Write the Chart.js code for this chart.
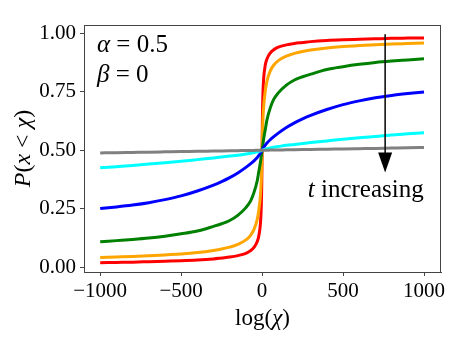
<!DOCTYPE html>
<html>
<head>
<meta charset="utf-8">
<script src="https://cdn.jsdelivr.net/npm/chart.js@4.4.1/dist/chart.umd.min.js"></script>
<style>
  html, body { margin: 0; padding: 0; background: #fff; }
  canvas { display: block; }
</style>
</head>
<body>
<canvas id="cdfChart" width="469" height="351"></canvas>
<script>
// log(chi) sample points
const xs = [-1000, -900, -800, -700, -600, -500, -400, -300, -250, -200, -150, -100, -70, -50, -30, -20, -10, -5, -2, 0,
            2, 5, 10, 20, 30, 50, 70, 100, 150, 200, 250, 300, 400, 500, 600, 700, 800, 900, 1000];

const redVals    = [0.020, 0.021, 0.022, 0.024, 0.026, 0.028, 0.031, 0.036, 0.040, 0.044, 0.050, 0.060, 0.072, 0.085, 0.110, 0.135, 0.190, 0.260, 0.360, 0.5,
                    0.64, 0.74, 0.81, 0.865, 0.89, 0.915, 0.928, 0.94, 0.95, 0.956, 0.96, 0.964, 0.969, 0.972, 0.974, 0.976, 0.978, 0.979, 0.98];
const orangeVals = [0.042, 0.044, 0.046, 0.049, 0.053, 0.057, 0.063, 0.072, 0.078, 0.086, 0.098, 0.117, 0.138, 0.162, 0.205, 0.245, 0.310, 0.370, 0.430, 0.5,
                    0.57, 0.63, 0.69, 0.755, 0.795, 0.838, 0.862, 0.883, 0.902, 0.914, 0.922, 0.928, 0.937, 0.943, 0.947, 0.951, 0.954, 0.956, 0.958];
const greenVals  = [0.109, 0.114, 0.119, 0.125, 0.133, 0.143, 0.155, 0.175, 0.186, 0.200, 0.222, 0.255, 0.285, 0.320, 0.370, 0.410, 0.450, 0.475, 0.490, 0.5,
                    0.51, 0.525, 0.55, 0.59, 0.63, 0.68, 0.715, 0.745, 0.778, 0.80, 0.814, 0.825, 0.845, 0.857, 0.867, 0.875, 0.881, 0.886, 0.891];
const blueVals   = [0.251, 0.258, 0.266, 0.276, 0.289, 0.305, 0.326, 0.351, 0.366, 0.383, 0.403, 0.427, 0.443, 0.455, 0.469, 0.478, 0.488, 0.494, 0.4975, 0.5,
                    0.5025, 0.506, 0.512, 0.522, 0.531, 0.545, 0.557, 0.573, 0.597, 0.617, 0.634, 0.649, 0.674, 0.695, 0.711, 0.724, 0.734, 0.742, 0.749];
const cyanVals   = [0.425, 0.430, 0.435, 0.441, 0.447, 0.453, 0.460, 0.467, 0.471, 0.475, 0.479, 0.484, 0.487, 0.490, 0.493, 0.495, 0.497, 0.4985, 0.4995, 0.5,
                    0.5005, 0.5015, 0.503, 0.505, 0.507, 0.51, 0.513, 0.516, 0.521, 0.525, 0.529, 0.533, 0.54, 0.547, 0.553, 0.559, 0.565, 0.57, 0.575];
const grayVals   = [0.4885, 0.4896, 0.4908, 0.492, 0.4931, 0.4942, 0.4954, 0.4965, 0.4971, 0.4977, 0.4983, 0.4988, 0.4992, 0.4994, 0.4997, 0.4998, 0.4999, 0.49995, 0.5, 0.5,
                    0.5, 0.50005, 0.5001, 0.5002, 0.5003, 0.5006, 0.5008, 0.5012, 0.5017, 0.5023, 0.5029, 0.5035, 0.5046, 0.5058, 0.5069, 0.508, 0.5092, 0.5104, 0.5115];

const xTicks = [-1000, -500, 0, 500, 1000];
const yTicks = [0, 0.25, 0.5, 0.75, 1];

const FONT = "'Liberation Serif', 'DejaVu Serif', serif";
const AXIS = "#444";

function pts(vals) {
    return xs.map((x, i) => ({ x: x, y: vals[i] }));
}

// draws a run of [text, italic] pieces, centred or left aligned at x
function drawRuns(ctx, runs, x, y, size, align) {
    let total = 0;
    runs.forEach(r => {
        ctx.font = (r[1] ? "italic " : "") + size + "px " + FONT;
        total += ctx.measureText(r[0]).width;
    });
    let cx = align === "center" ? x - total / 2 : x;
    ctx.textAlign = "left";
    ctx.textBaseline = "alphabetic";
    runs.forEach(r => {
        ctx.font = (r[1] ? "italic " : "") + size + "px " + FONT;
        ctx.fillText(r[0], cx, y);
        cx += ctx.measureText(r[0]).width;
    });
}

const decorations = {
    id: "decorations",
    afterDraw(chart) {
        const ctx = chart.ctx;
        const a = chart.chartArea;
        const sx = chart.scales.x, sy = chart.scales.y;
        ctx.save();

        // frame
        ctx.strokeStyle = AXIS;
        ctx.lineWidth = 1;
        ctx.strokeRect(a.left + 0.5, a.top + 0.5, a.right - a.left - 1, a.bottom - a.top);

        ctx.fillStyle = "#000";
        // parameter labels
        drawRuns(ctx, [["α", true], [" = 0.5", false]], a.left + 13, a.top + 27, 25, "left");
        drawRuns(ctx, [["β", true], [" = 0", false]], a.left + 13, a.top + 57, 25, "left");

        // arrow
        const ax = sx.getPixelForValue(760);
        const y0 = sy.getPixelForValue(0.995);
        const yTip = sy.getPixelForValue(0.405);
        const headLen = 20, headW = 7;
        ctx.strokeStyle = "#111";
        ctx.lineWidth = 1.6;
        ctx.beginPath();
        ctx.moveTo(ax, y0);
        ctx.lineTo(ax, yTip - headLen + 2);
        ctx.stroke();
        ctx.beginPath();
        ctx.moveTo(ax - headW, yTip - headLen);
        ctx.lineTo(ax + headW, yTip - headLen);
        ctx.lineTo(ax, yTip);
        ctx.closePath();
        ctx.fill();

        drawRuns(ctx, [["t", true], [" increasing", false]],
                 sx.getPixelForValue(282), sy.getPixelForValue(0.30), 25, "left");

        // axis titles
        drawRuns(ctx, [["log(", false], ["χ", true], [")", false]], (a.left + a.right) / 2, 325, 23, "center");
        ctx.translate(30, (a.top + a.bottom) / 2);
        ctx.rotate(-Math.PI / 2);
        drawRuns(ctx, [["P", true], ["(", false], ["x", true], [" < ", false], ["χ", true], [")", false]], 0, 0, 24, "center");

        ctx.restore();
    }
};

const ctx = document.getElementById("cdfChart").getContext("2d");
const cdfChart = new Chart(ctx, {
    type: "line",
    data: {
        datasets: [
            { label: "t1", data: pts(redVals),    borderColor: "#ff0000", order: 5 },
            { label: "t2", data: pts(orangeVals), borderColor: "#ffa500", order: 4 },
            { label: "t3", data: pts(greenVals),  borderColor: "#008000", order: 3 },
            { label: "t4", data: pts(blueVals),   borderColor: "#0000ff", order: 2 },
            { label: "t5", data: pts(cyanVals),   borderColor: "#00ffff", order: 1 },
            { label: "t6", data: pts(grayVals),   borderColor: "#808080", order: 0 }
        ]
    },
    options: {
        responsive: false,
        animation: false,
        devicePixelRatio: 1,
        layout: { padding: { top: 25, right: 28, left: 0, bottom: 0 } },
        elements: {
            point: { radius: 0 },
            line: { borderWidth: 3, fill: false, cubicInterpolationMode: "monotone" }
        },
        plugins: {
            legend: { display: false },
            tooltip: { enabled: false }
        },
        scales: {
            x: {
                type: "linear",
                min: -1100,
                max: 1105,
                afterBuildTicks: s => { s.ticks = xTicks.map(v => ({ value: v })); },
                afterFit: s => { s.height = 79; },
                grid: { drawOnChartArea: false, tickLength: 4, color: AXIS },
                border: { color: AXIS, width: 1 },
                ticks: {
                    color: "#000",
                    padding: 3,
                    maxRotation: 0,
                    font: { family: FONT, size: 21 },
                    callback: v => (v < 0 ? "\u2212" + Math.abs(v) : String(v))
                }
            },
            y: {
                min: -0.02,
                max: 1.035,
                afterBuildTicks: s => { s.ticks = yTicks.map(v => ({ value: v })); },
                afterFit: s => { s.width = 84; },
                grid: { drawOnChartArea: false, tickLength: 4, color: AXIS },
                border: { color: AXIS, width: 1 },
                ticks: {
                    color: "#000",
                    padding: 4,
                    font: { family: FONT, size: 21 },
                    callback: v => v.toFixed(2)
                }
            }
        }
    },
    plugins: [decorations]
});
</script>
</body>
</html>
